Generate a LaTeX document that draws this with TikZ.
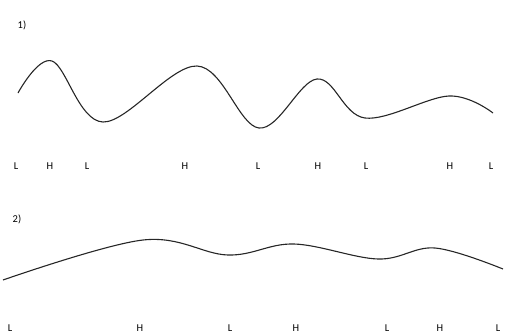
\documentclass[tikz,border=0pt]{standalone}
\usepackage{fontspec}
\setmainfont{Carlito}
\begin{document}
\begin{tikzpicture}[x=1pt,y=-1pt,
  lab/.style={font=\fontsize{10.5}{12}\selectfont, inner sep=0pt},
  wave/.style={line width=1.1pt, black!85}]
\useasboundingbox (0,0) rectangle (507,335);
\node[lab] (t1) at (22,25) {1)};
\node[lab] (t2) at (17,219) {2)};
\draw[wave] plot[smooth, tension=0.6] coordinates {(18,93) (52,61) (103,122) (197,66) (259,128) (317,79) (365,118) (449,96) (493,113)};
\draw[wave] plot[smooth, tension=0.6] coordinates {(3,280) (143,240) (228,255) (294,244) (378,259) (435,248) (503,269)};
\foreach \x/\t [count=\i] in {16/L,50/H,87/L,185/H,258/L,318/H,366/L,450/H,491/L}
  \node[lab] (a\i) at (\x,166) {\t};
\foreach \x/\t [count=\i] in {10/L,140/H,230/L,296/H,387/L,440/H,498/L}
  \node[lab] (b\i) at (\x,328) {\t};
\end{tikzpicture}
\end{document}
